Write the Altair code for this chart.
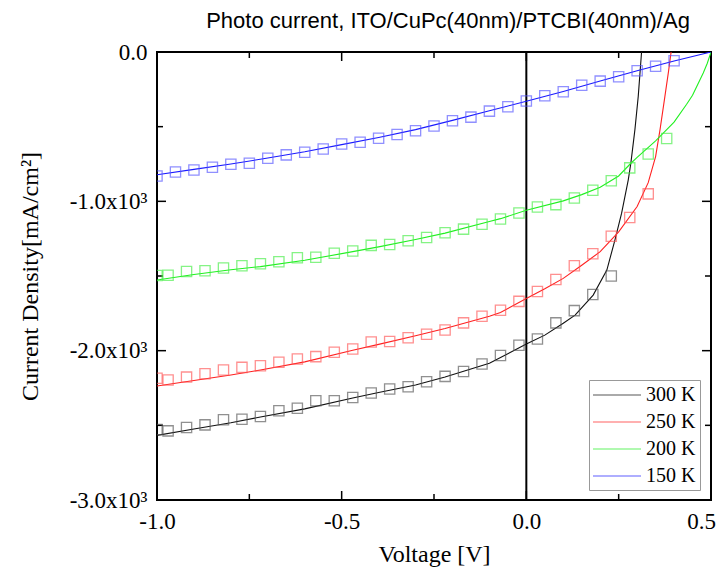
import altair as alt
import pandas as pd

# ---------------- data ----------------
series_names = ["300 K", "250 K", "200 K", "150 K"]
line_colors = ["#111111", "#ff2020", "#20f020", "#1a1aff"]
marker_colors = ["#555555", "#ff5555", "#44ee44", "#5555ff"]

# measured points (open squares)
v_300 = [-1.00, -0.97, -0.92, -0.87, -0.82, -0.77, -0.72, -0.67, -0.62, -0.57, -0.52,
         -0.47, -0.42, -0.37, -0.32, -0.27, -0.22, -0.17, -0.12, -0.07, -0.02,
         0.03, 0.08, 0.13, 0.18, 0.23]
j_300 = [-2528, -2537, -2515, -2497, -2463, -2459, -2441, -2403, -2385, -2336, -2336,
         -2313, -2284, -2257, -2242, -2208, -2172, -2139, -2089, -2033, -1964,
         -1922, -1814, -1732, -1624, -1500]

v_250 = [-1.00, -0.97, -0.92, -0.87, -0.82, -0.77, -0.72, -0.67, -0.62, -0.57, -0.52,
         -0.47, -0.42, -0.37, -0.32, -0.27, -0.22, -0.17, -0.12, -0.07, -0.02,
         0.03, 0.08, 0.13, 0.18, 0.23, 0.28, 0.33]
j_250 = [-2185, -2197, -2177, -2154, -2130, -2112, -2101, -2078, -2056, -2040, -2011,
         -1989, -1942, -1938, -1913, -1890, -1861, -1814, -1770, -1730, -1670,
         -1604, -1523, -1432, -1351, -1234, -1108, -950]

v_200 = [-1.00, -0.97, -0.92, -0.87, -0.82, -0.77, -0.72, -0.67, -0.62, -0.57, -0.52,
         -0.47, -0.42, -0.37, -0.32, -0.27, -0.22, -0.17, -0.12, -0.07, -0.02,
         0.03, 0.08, 0.13, 0.18, 0.23, 0.28, 0.33, 0.38]
j_200 = [-1497, -1495, -1470, -1465, -1447, -1432, -1418, -1405, -1378, -1374, -1347,
         -1333, -1295, -1289, -1264, -1242, -1210, -1186, -1154, -1118, -1078,
         -1038, -1022, -978, -926, -862, -776, -683, -579]

v_150 = [-1.00, -0.95, -0.90, -0.85, -0.80, -0.75, -0.70, -0.65, -0.60, -0.55, -0.50,
         -0.45, -0.40, -0.35, -0.30, -0.25, -0.20, -0.15, -0.10, -0.05, 0.00,
         0.05, 0.10, 0.15, 0.20, 0.25, 0.30, 0.35, 0.40]
j_150 = [-830, -803, -790, -772, -752, -745, -711, -689, -671, -649, -616,
         -604, -577, -552, -528, -495, -461, -436, -396, -366, -328,
         -293, -266, -223, -195, -166, -125, -96, -58]

# fitted curves (solid lines)
fv_300 = [-1.0, -0.9, -0.8, -0.72, -0.6, -0.47, -0.4, -0.3, -0.22, -0.1, 0.0, 0.05, 0.1,
          0.132, 0.181, 0.218, 0.24, 0.258, 0.276, 0.283, 0.294, 0.303, 0.312]
fj_300 = [-2567, -2525, -2483, -2444, -2390, -2317, -2280, -2230, -2176, -2085, -1956, -1896, -1816,
          -1762, -1628, -1460, -1258, -1079, -856, -744, -520, -297, 0]

fv_250 = [-1.0, -0.9, -0.8, -0.72, -0.6, -0.47, -0.4, -0.3, -0.22, -0.1, -0.07, 0.0, 0.05, 0.1,
          0.15, 0.2, 0.25, 0.3, 0.33, 0.35, 0.362, 0.375, 0.385, 0.392]
fj_250 = [-2237, -2200, -2163, -2130, -2075, -1997, -1958, -1900, -1851, -1770, -1745, -1650, -1585, -1516,
          -1428, -1337, -1205, -1035, -875, -700, -520, -300, -130, 0]

fv_200 = [-1.0, -0.9, -0.8, -0.72, -0.6, -0.47, -0.4, -0.3, -0.22, -0.1, -0.07, 0.0, 0.1,
          0.15, 0.2, 0.25, 0.283, 0.3, 0.35, 0.4, 0.434, 0.45, 0.479, 0.49, 0.5]
fj_200 = [-1527, -1490, -1458, -1437, -1395, -1337, -1305, -1256, -1213, -1135, -1116, -1060, -997,
          -955, -905, -830, -745, -705, -595, -470, -350, -290, -140, -75, 0]

fv_150 = [-1.0, -0.9, -0.8, -0.7, -0.6, -0.5, -0.4, -0.3, -0.2, -0.1, 0.0,
          0.1, 0.2, 0.3, 0.4, 0.5]
fj_150 = [-822, -786, -750, -710, -668, -620, -572, -520, -458, -394, -330,
          -264, -194, -125, -60, 0]

x_major = [-1.0, -0.5, 0.0, 0.5]
x_minor = [-0.75, -0.25, 0.25]
y_major = [0, -1000, -2000, -3000]
y_minor = [-500, -1500, -2500]

title_text = "Photo current, ITO/CuPc(40nm)/PTCBI(40nm)/Ag"
x_title = "Voltage [V]"
y_title = "Current Density[mA/cm\u00b2]"

# ---------------- tables ----------------
pts = pd.concat([
    pd.DataFrame({"V": v, "J": j, "s": n})
    for v, j, n in [(v_300, j_300, "300 K"), (v_250, j_250, "250 K"),
                    (v_200, j_200, "200 K"), (v_150, j_150, "150 K")]
])
fits = pd.concat([
    pd.DataFrame({"V": v, "J": j, "s": n})
    for v, j, n in [(fv_300, fj_300, "300 K"), (fv_250, fj_250, "250 K"),
                    (fv_200, fj_200, "200 K"), (fv_150, fj_150, "150 K")]
])

W, H = 554, 448
MAJ, MIN = 9, 6
xs = alt.Scale(domain=[-1.0, 0.5], nice=False, zero=False)
ys = alt.Scale(domain=[-3000, 0], nice=False, zero=False)

x_axis = alt.Axis(values=x_major, title=x_title, labelPadding=10, titlePadding=9, labelFlush=False,
                  labelOffset={"condition": {"test": "datum.value >= 0.5", "value": -10}, "value": 0},
                  labelExpr="datum.value < 0 ? '-' + format(-datum.value, '.1f') : format(datum.value, '.1f')")
y_axis = alt.Axis(values=y_major, title=y_title, labelPadding=10, titlePadding=27, labelFlush=False,
                  labelExpr="datum.value == 0 ? '0.0' : '-' + format(-datum.value/1000, '.1f') + 'x10\u00b3'")


def X(field):
    return alt.X(field, scale=xs, axis=x_axis, title=x_title)


def Y(field):
    return alt.Y(field, scale=ys, axis=y_axis, title=y_title)


lines = alt.Chart(fits).mark_line(strokeWidth=1.1, clip=True).encode(
    x=X("V:Q"),
    y=Y("J:Q"),
    color=alt.Color("s:N", scale=alt.Scale(domain=series_names, range=line_colors),
                    legend=alt.Legend(title=None, orient="none", legendX=432, legendY=328,
                                      symbolType="M-2.4,0H2.4", symbolSize=400, symbolStrokeWidth=1.2,
                                      symbolOpacity=0.7, symbolOffset=13,
                                      labelFont="Liberation Serif", labelFontSize=20,
                                      labelColor="black", labelOffset=18, labelLimit=0,
                                      strokeColor="#999999", fillColor="white",
                                      padding=4, rowPadding=6)),
    order="V:Q",
)

points = alt.Chart(pts).mark_point(shape="square", filled=False, size=105,
                                   strokeWidth=1.3, opacity=0.65, clip=True).encode(
    x=X("V:Q"),
    y=Y("J:Q"),
    color=alt.Color("s:N", scale=alt.Scale(domain=series_names, range=marker_colors), legend=None),
)

zero_line = alt.Chart(pd.DataFrame({"V": [0.0]})).mark_rule(color="black", strokeWidth=2).encode(
    x=X("V:Q")
)


def xticks(vals, length):
    d = pd.DataFrame({"V": vals})
    bottom = alt.Chart(d).mark_rule(color="black", strokeWidth=1.5).encode(
        x=X("V:Q"), y=alt.value(H), y2=alt.value(H - length))
    top = alt.Chart(d).mark_rule(color="black", strokeWidth=1.5).encode(
        x=X("V:Q"), y=alt.value(0), y2=alt.value(length))
    return [bottom, top]


def yticks(vals, length):
    d = pd.DataFrame({"J": vals})
    left = alt.Chart(d).mark_rule(color="black", strokeWidth=1.5).encode(
        y=Y("J:Q"), x=alt.value(0), x2=alt.value(length))
    right = alt.Chart(d).mark_rule(color="black", strokeWidth=1.5).encode(
        y=Y("J:Q"), x=alt.value(W), x2=alt.value(W - length))
    return [left, right]


tick_layers = xticks(x_major, MAJ) + xticks(x_minor, MIN) + yticks(y_major, MAJ) + yticks(y_minor, MIN)

chart = alt.layer(zero_line, *tick_layers, lines, points).resolve_scale(
    color="independent"
).properties(
    width=W, height=H,
    title=alt.TitleParams(title_text, font="Liberation Sans", fontSize=22, fontWeight="normal",
                          color="black", anchor="middle", dx=14, offset=8),
    padding={"left": 149, "top": 44, "right": 7, "bottom": 70},
    autosize=alt.AutoSizeParams(type="none"),
).configure_view(
    stroke="black", strokeWidth=2
).configure_axis(
    grid=False, domain=False, ticks=False,
    labelFont="Liberation Serif", labelFontSize=23, labelColor="black",
    titleFont="Liberation Serif", titleFontSize=24, titleFontWeight="normal", titleColor="black",
)

chart.save("out.html", embed_options={"renderer": "svg", "actions": False})
